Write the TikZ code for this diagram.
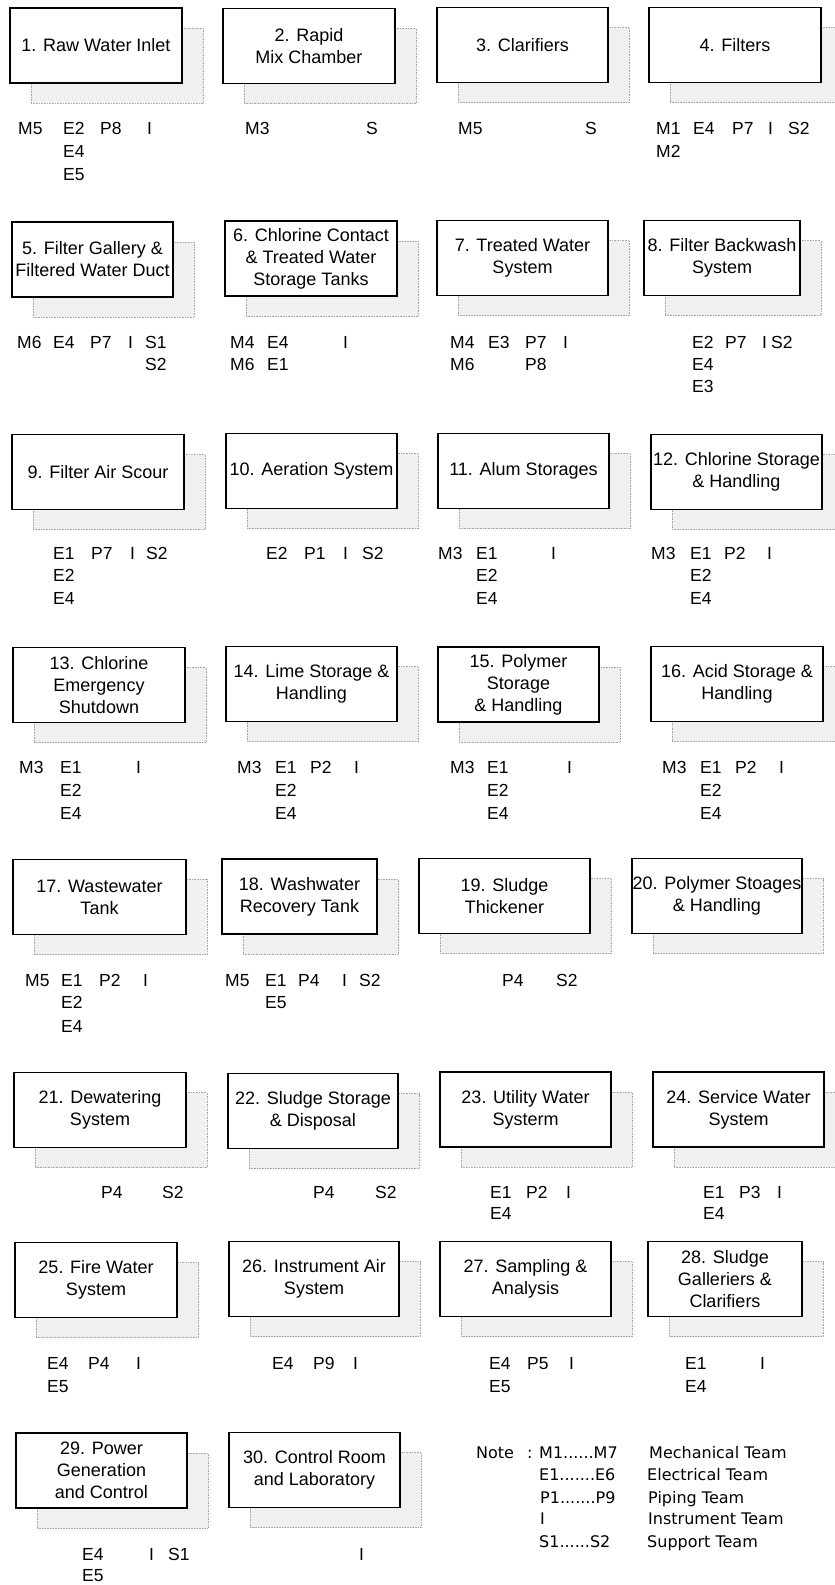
\documentclass[tikz,border=0pt]{standalone}
\usepackage{fontspec}
\setmainfont{Liberation Sans}
\newfontfamily\notefam{DejaVu Sans}
\usetikzlibrary{shadows}
\newcommand\bxfont{\fontsize{18}{22}\selectfont}
\newcommand\cdfont{\fontsize{17.5}{21}\selectfont}
\newcommand\ntfont{\notefam\fontsize{16}{20}\selectfont}
\tikzset{
  unitbox/.style={draw=black, line width=1.1pt, fill=white, minimum width=172pt,
    minimum height=75pt, inner sep=0pt, align=center, font=\bxfont,
    general shadow={shadow xshift=21pt, shadow yshift=-20pt, fill=black!6,
      draw=black!35, densely dotted, line width=0.6pt}},
  codetxt/.style={anchor=base west, inner sep=0pt, font=\cdfont},
  notetxt/.style={anchor=base west, inner sep=0pt, font=\ntfont}
}
\begin{document}
\begin{tikzpicture}[x=1pt,y=-1pt]
\useasboundingbox (0,0) rectangle (835,1585);
\fill[white] (0,0) rectangle (835,1585);
% ---------- boxes ----------
\node[unitbox] (b1) at (96,45.5) {1. Raw Water Inlet};
\node[unitbox] (b2) at (309,46) {2. Rapid\\Mix Chamber};
\node[unitbox, minimum width=171pt] (b3) at (522.5,45) {3. Clarifiers};
\node[unitbox] (b4) at (735,45) {4. Filters};
\node[unitbox, minimum width=161pt] (b5) at (92.5,259.5) {5. Filter Gallery \&\\Filtered Water Duct};
\node[unitbox] (b6) at (311,258.5) {6. Chlorine Contact\\\& Treated Water\\Storage Tanks};
\node[unitbox, minimum width=171pt] (b7) at (522.5,258) {7. Treated Water\\System};
\node[unitbox, minimum width=156pt] (b8) at (722,258) {8. Filter Backwash\\System};
\node[unitbox] (b9) at (98,472) {9. Filter Air Scour};
\node[unitbox, minimum width=171pt] (b10) at (311.5,471) {10. Aeration System};
\node[unitbox, minimum width=171pt] (b11) at (523.5,471) {11. Alum Storages};
\node[unitbox, minimum width=171pt] (b12) at (736.5,472) {12. Chlorine Storage\\\& Handling};
\node[unitbox] (b13) at (99,685) {13. Chlorine\\Emergency\\Shutdown};
\node[unitbox, minimum width=171pt] (b14) at (311.5,684) {14. Lime Storage \&\\Handling};
\node[unitbox, minimum width=161pt] (b15) at (518.5,684.5) {15. Polymer\\Storage\\\& Handling};
\node[unitbox] (b16) at (737,684) {16. Acid Storage \&\\Handling};
\node[unitbox, minimum width=173pt] (b17) at (99.5,897) {17. Wastewater\\Tank};
\node[unitbox, minimum width=155pt] (b18) at (299.5,896.5) {18. Washwater\\Recovery Tank};
\node[unitbox, minimum width=171pt] (b19) at (504.5,896) {19. Sludge\\Thickener};
\node[unitbox, minimum width=170pt] (b20) at (717,896) {20. Polymer Stoages\\\& Handling};
\node[unitbox] (b21) at (100,1110) {21. Dewatering\\System};
\node[unitbox, minimum width=170pt] (b22) at (313,1111) {22. Sludge Storage\\\& Disposal};
\node[unitbox, minimum width=171pt] (b23) at (525.5,1109.5) {23. Utility Water\\Systerm};
\node[unitbox, minimum width=171pt] (b24) at (738.5,1109.5) {24. Service Water\\System};
\node[unitbox, minimum width=162pt] (b25) at (96,1280) {25. Fire Water\\System};
\node[unitbox, minimum width=170pt] (b26) at (314,1279) {26. Instrument Air\\System};
\node[unitbox, minimum width=171pt] (b27) at (525.5,1279) {27. Sampling \&\\Analysis};
\node[unitbox, minimum width=154pt] (b28) at (725,1279) {28. Sludge\\Galleriers \&\\Clarifiers};
\node[unitbox, minimum width=171pt] (b29) at (101.5,1470.5) {29. Power\\Generation\\and Control};
\node[unitbox, minimum width=171pt] (b30) at (314.5,1470) {30. Control Room\\and Laboratory};
% ---------- team codes ----------
\foreach \t/\x/\y [count=\i] in {M5/18/134, E2/63/134, P8/100/134, I/147/134, E4/63/157, E5/63/180}
  \node[codetxt] (t1-\i) at (\x,\y) {\t};
\foreach \t/\x/\y [count=\i] in {M3/245/134, S/366/134}
  \node[codetxt] (t2-\i) at (\x,\y) {\t};
\foreach \t/\x/\y [count=\i] in {M5/458/134, S/585/134}
  \node[codetxt] (t3-\i) at (\x,\y) {\t};
\foreach \t/\x/\y [count=\i] in {M1/656/134, E4/693/134, P7/732/134, I/768/134, S2/788/134, M2/656/157}
  \node[codetxt] (t4-\i) at (\x,\y) {\t};
\foreach \t/\x/\y [count=\i] in {M6/17/348, E4/53/348, P7/90/348, I/128/348, S1/145/348, S2/145/370}
  \node[codetxt] (t5-\i) at (\x,\y) {\t};
\foreach \t/\x/\y [count=\i] in {M4/230/348, E4/267/348, I/343/348, M6/230/370, E1/267/370}
  \node[codetxt] (t6-\i) at (\x,\y) {\t};
\foreach \t/\x/\y [count=\i] in {M4/450/348, E3/488/348, P7/525/348, I/563/348, M6/450/370, P8/525/370}
  \node[codetxt] (t7-\i) at (\x,\y) {\t};
\foreach \t/\x/\y [count=\i] in {E2/692/348, P7/725/348, I/762/348, S2/771/348, E4/692/370, E3/692/392}
  \node[codetxt] (t8-\i) at (\x,\y) {\t};
\foreach \t/\x/\y [count=\i] in {E1/53/559, P7/91/559, I/130/559, S2/146/559, E2/53/581, E4/53/604}
  \node[codetxt] (t9-\i) at (\x,\y) {\t};
\foreach \t/\x/\y [count=\i] in {E2/266/559, P1/304/559, I/343/559, S2/362/559}
  \node[codetxt] (t10-\i) at (\x,\y) {\t};
\foreach \t/\x/\y [count=\i] in {M3/438/559, E1/476/559, I/551/559, E2/476/581, E4/476/604}
  \node[codetxt] (t11-\i) at (\x,\y) {\t};
\foreach \t/\x/\y [count=\i] in {M3/651/559, E1/690/559, P2/724/559, I/767/559, E2/690/581, E4/690/604}
  \node[codetxt] (t12-\i) at (\x,\y) {\t};
\foreach \t/\x/\y [count=\i] in {M3/19/773, E1/60/773, I/136/773, E2/60/796, E4/60/819}
  \node[codetxt] (t13-\i) at (\x,\y) {\t};
\foreach \t/\x/\y [count=\i] in {M3/237/773, E1/275/773, P2/310/773, I/354/773, E2/275/796, E4/275/819}
  \node[codetxt] (t14-\i) at (\x,\y) {\t};
\foreach \t/\x/\y [count=\i] in {M3/450/773, E1/487/773, I/567/773, E2/487/796, E4/487/819}
  \node[codetxt] (t15-\i) at (\x,\y) {\t};
\foreach \t/\x/\y [count=\i] in {M3/662/773, E1/700/773, P2/735/773, I/779/773, E2/700/796, E4/700/819}
  \node[codetxt] (t16-\i) at (\x,\y) {\t};
\foreach \t/\x/\y [count=\i] in {M5/25/986, E1/61/986, P2/99/986, I/143/986, E2/61/1008, E4/61/1032}
  \node[codetxt] (t17-\i) at (\x,\y) {\t};
\foreach \t/\x/\y [count=\i] in {M5/225/986, E1/265/986, P4/298/986, I/342/986, S2/359/986, E5/265/1008}
  \node[codetxt] (t18-\i) at (\x,\y) {\t};
\foreach \t/\x/\y [count=\i] in {P4/502/986, S2/556/986}
  \node[codetxt] (t19-\i) at (\x,\y) {\t};
\foreach \t/\x/\y [count=\i] in {P4/101/1198, S2/162/1198}
  \node[codetxt] (t21-\i) at (\x,\y) {\t};
\foreach \t/\x/\y [count=\i] in {P4/313/1198, S2/375/1198}
  \node[codetxt] (t22-\i) at (\x,\y) {\t};
\foreach \t/\x/\y [count=\i] in {E1/490/1198, P2/526/1198, I/566/1198, E4/490/1219}
  \node[codetxt] (t23-\i) at (\x,\y) {\t};
\foreach \t/\x/\y [count=\i] in {E1/703/1198, P3/739/1198, I/777/1198, E4/703/1219}
  \node[codetxt] (t24-\i) at (\x,\y) {\t};
\foreach \t/\x/\y [count=\i] in {E4/47/1369, P4/88/1369, I/136/1369, E5/47/1392}
  \node[codetxt] (t25-\i) at (\x,\y) {\t};
\foreach \t/\x/\y [count=\i] in {E4/272/1369, P9/313/1369, I/353/1369}
  \node[codetxt] (t26-\i) at (\x,\y) {\t};
\foreach \t/\x/\y [count=\i] in {E4/489/1369, P5/527/1369, I/569/1369, E5/489/1392}
  \node[codetxt] (t27-\i) at (\x,\y) {\t};
\foreach \t/\x/\y [count=\i] in {E1/685/1369, I/760/1369, E4/685/1392}
  \node[codetxt] (t28-\i) at (\x,\y) {\t};
\foreach \t/\x/\y [count=\i] in {E4/82/1560, I/149/1560, S1/168/1560, E5/82/1581}
  \node[codetxt] (t29-\i) at (\x,\y) {\t};
\node[codetxt] (t30-1) at (359,1560) {I};
% ---------- note ----------
\node[notetxt] (note) at (476,1458) {Note};
\node[notetxt] (colon) at (527,1458) {:};
\node[notetxt] (n1) at (539,1458) {M1......M7};
\node[notetxt] (n2) at (539,1480) {E1.......E6};
\node[notetxt] (n3) at (540,1503) {P1.......P9};
\node[notetxt] (n4) at (540,1524) {I};
\node[notetxt] (n5) at (539,1547) {S1......S2};
\node[notetxt] (m1) at (649,1458) {Mechanical Team};
\node[notetxt] (m2) at (647,1480) {Electrical Team};
\node[notetxt] (m3) at (648,1503) {Piping Team};
\node[notetxt] (m4) at (648,1524) {Instrument Team};
\node[notetxt] (m5) at (647,1547) {Support Team};
\end{tikzpicture}
\end{document}
